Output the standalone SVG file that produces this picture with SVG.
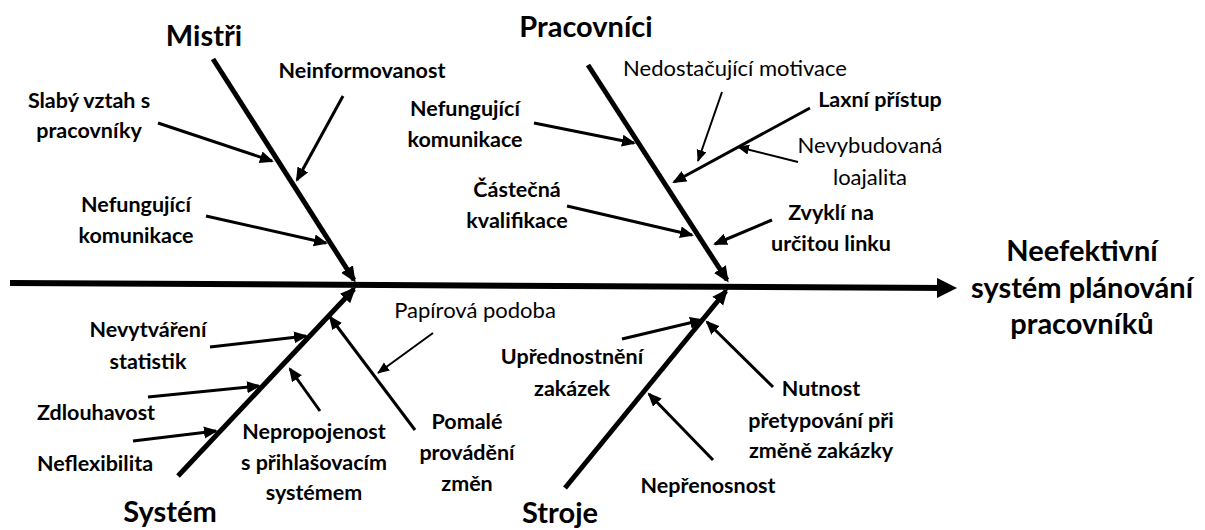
<svg xmlns="http://www.w3.org/2000/svg" width="1205" height="530" viewBox="0 0 1205 530">
<style>
text{font-family:Lato,"Open Sans","Liberation Sans",sans-serif;fill:#000;text-anchor:middle}
.t{font-size:29px;font-weight:bold}
.b{font-size:21.5px;font-weight:bold}
.n{font-size:22px;font-weight:normal}
.spine{stroke:#000;stroke-width:6;fill:none}
.bone{stroke:#000;stroke-width:5;fill:none;marker-end:url(#hb)}
.sub{stroke:#000;stroke-width:3;fill:none;marker-end:url(#hs)}
.thin{stroke:#000;stroke-width:2;fill:none;marker-end:url(#ht)}
</style>
<defs>
<marker id="hm" markerUnits="userSpaceOnUse" markerWidth="22" markerHeight="22" refX="12" refY="10" orient="auto"><path d="M0,0 L20,10 L0,20 z" fill="#000"/></marker>
<marker id="hb" markerUnits="userSpaceOnUse" markerWidth="18" markerHeight="16" refX="13" refY="7" orient="auto"><path d="M0,0 L16,7 L0,14 z" fill="#000"/></marker>
<marker id="hs" markerUnits="userSpaceOnUse" markerWidth="16" markerHeight="14" refX="12" refY="6" orient="auto"><path d="M0,0 L14,6 L0,12 z" fill="#000"/></marker>
<marker id="ht" markerUnits="userSpaceOnUse" markerWidth="14" markerHeight="12" refX="11" refY="5" orient="auto"><path d="M0,0 L12,5 L0,10 z" fill="#000"/></marker>
</defs>
<g id="connectors">
<line class="spine" x1="10" y1="283" x2="949" y2="288" marker-end="url(#hm)"/>
<line class="bone" x1="213" y1="59" x2="354" y2="280"/>
<line class="bone" x1="588" y1="65" x2="727" y2="280"/>
<line class="bone" x1="178" y1="476" x2="354" y2="289"/>
<line class="bone" x1="565" y1="488" x2="726" y2="291"/>
<line class="sub" x1="158" y1="123" x2="272" y2="161"/>
<line class="sub" x1="343" y1="96" x2="297" y2="180"/>
<line class="sub" x1="206" y1="216" x2="326" y2="243"/>
<line class="sub" x1="534" y1="123" x2="634" y2="143"/>
<line class="thin" x1="722" y1="92" x2="698" y2="161"/>
<line class="sub" x1="810" y1="108" x2="674" y2="182"/>
<line class="thin" x1="798" y1="162" x2="738" y2="147"/>
<line class="sub" x1="567" y1="206" x2="692" y2="235"/>
<line class="sub" x1="772" y1="220" x2="715" y2="244"/>
<line class="sub" x1="210" y1="347" x2="306" y2="336"/>
<line class="sub" x1="148" y1="397" x2="259" y2="386"/>
<line class="sub" x1="133" y1="441" x2="216" y2="431"/>
<line class="sub" x1="320" y1="411" x2="290" y2="369"/>
<line class="sub" x1="415" y1="430" x2="330" y2="317"/>
<line class="thin" x1="433" y1="333" x2="378" y2="373"/>
<line class="sub" x1="622" y1="339" x2="702" y2="320"/>
<line class="sub" x1="773" y1="387" x2="707" y2="322"/>
<line class="sub" x1="713" y1="460" x2="649" y2="394"/>
</g>
<g id="result"><text class="t" x="1082" y="261">Neefektivní</text><text class="t" x="1082" y="298">systém plánování</text><text class="t" x="1082" y="334">pracovníků</text></g>
<g id="mistri"><text class="t" x="204" y="46">Mistři</text></g>
<g id="pracovnici"><text class="t" x="586" y="37">Pracovníci</text></g>
<g id="system"><text class="t" x="170" y="522">Systém</text></g>
<g id="stroje"><text class="t" x="560" y="523">Stroje</text></g>
<g id="slaby"><text class="b" x="89" y="108">Slabý vztah s</text><text class="b" x="89" y="138">pracovníky</text></g>
<g id="neinformovanost"><text class="b" x="362" y="78">Neinformovanost</text></g>
<g id="nefungujici-m"><text class="b" x="136" y="212">Nefungující</text><text class="b" x="136" y="243">komunikace</text></g>
<g id="nefungujici-p"><text class="b" x="465" y="116">Nefungující</text><text class="b" x="465" y="147">komunikace</text></g>
<g id="motivace"><text class="n" x="735" y="76">Nedostačující motivace</text></g>
<g id="laxni"><text class="b" x="880" y="107">Laxní přístup</text></g>
<g id="loajalita"><text class="n" x="870" y="153">Nevybudovaná</text><text class="n" x="870" y="185">loajalita</text></g>
<g id="castecna"><text class="b" x="517" y="197">Částečná</text><text class="b" x="517" y="228">kvalifikace</text></g>
<g id="zvykli"><text class="b" x="831" y="220">Zvyklí na</text><text class="b" x="831" y="251">určitou linku</text></g>
<g id="nevytvareni"><text class="b" x="148" y="337">Nevytváření</text><text class="b" x="148" y="369">statistik</text></g>
<g id="zdlouhavost"><text class="b" x="96" y="420">Zdlouhavost</text></g>
<g id="neflexibilita"><text class="b" x="95" y="471">Neflexibilita</text></g>
<g id="nepropojenost"><text class="b" x="314" y="439">Nepropojenost</text><text class="b" x="314" y="470">s přihlašovacím</text><text class="b" x="314" y="500">systémem</text></g>
<g id="pomale"><text class="b" x="467" y="429">Pomalé</text><text class="b" x="467" y="460">provádění</text><text class="b" x="467" y="491">změn</text></g>
<g id="papirova"><text class="n" x="475" y="318">Papírová podoba</text></g>
<g id="uprednostneni"><text class="b" x="572" y="364">Upřednostnění</text><text class="b" x="572" y="396">zakázek</text></g>
<g id="nutnost"><text class="b" x="821" y="396">Nutnost</text><text class="b" x="821" y="428">přetypování při</text><text class="b" x="821" y="458">změně zakázky</text></g>
<g id="neprenosnost"><text class="b" x="708" y="493">Nepřenosnost</text></g>
</svg>
